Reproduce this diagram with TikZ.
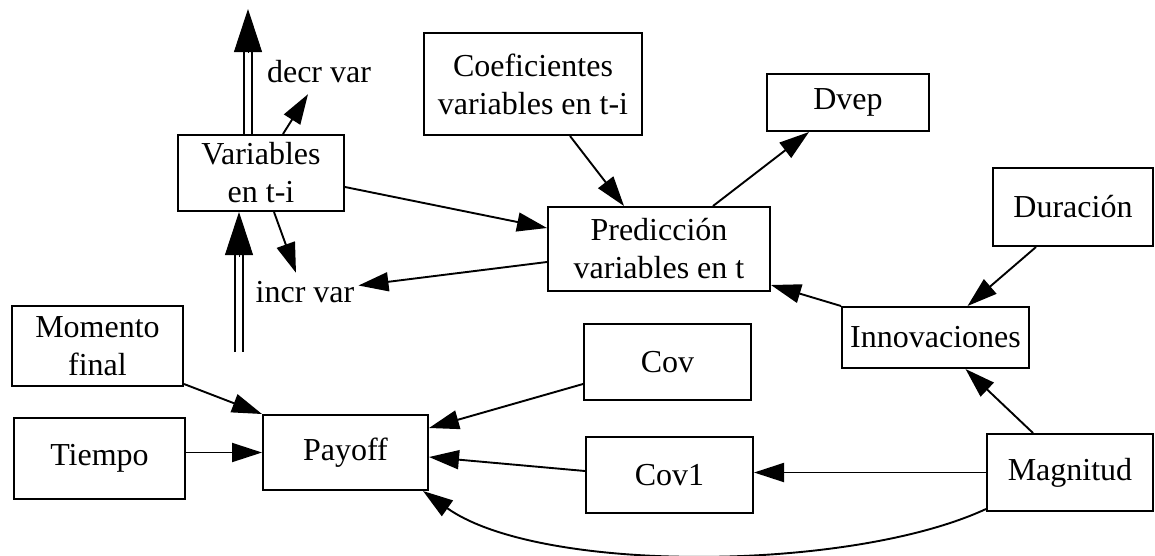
\documentclass[tikz,border=0pt]{standalone}
\usepackage{fontspec}
\setmainfont{Liberation Serif}
\usetikzlibrary{arrows.meta,calc}

\begin{document}
\begin{tikzpicture}[x=1pt,y=-1pt,
  box/.style={draw, line width=2pt, inner sep=0pt, align=center,
              font=\fontsize{32}{38}\selectfont},
  lbl/.style={inner sep=0pt, text height=21pt, text depth=0pt,
              font=\fontsize{32}{38}\selectfont},
  edge/.style={line width=1.9pt, -{Triangle[length=30pt,width=19pt]}},
  dbl/.style={double, double distance=5.5pt, line width=1.9pt},
  bigtip/.style={line width=1pt, -{Triangle[length=43pt,width=28pt]}}]

\useasboundingbox (0,0) rectangle (1155,555);

% boxes
\node[box, minimum width=166pt, minimum height=76pt]  (var)    at (261,173)   {Variables\\en t-i};
\node[box, minimum width=218pt, minimum height=102pt] (coef)   at (533,84)    {Coeficientes\\variables en t-i};
\node[box, minimum width=162pt, minimum height=57pt]  (dvep)   at (848,102.5) {Dvep};
\node[box, minimum width=222pt, minimum height=84pt]  (pred)   at (659,249)   {Predicción\\variables en t};
\node[box, minimum width=160pt, minimum height=78pt]  (dur)    at (1073,207)  {Duración};
\node[box, minimum width=187pt, minimum height=61pt]  (innov)  at (935.5,337.5) {Innovaciones};
\node[box, minimum width=171pt, minimum height=80pt]  (mom)    at (97.5,346)  {Momento\\final};
\node[box, minimum width=171pt, minimum height=81pt]  (tiempo) at (99.5,458.5) {Tiempo};
\node[box, minimum width=165pt, minimum height=75pt]  (payoff) at (345.5,452.5) {Payoff};
\node[box, minimum width=167pt, minimum height=76pt]  (cov)    at (667.5,362) {Cov};
\node[box, minimum width=167pt, minimum height=76pt]  (cov1)   at (669.5,475) {Cov1};
\node[box, minimum width=166pt, minimum height=77pt]  (mag)    at (1070,472.5) {Magnitud};

% free labels
\node[lbl] (decr) at (319,71.5)  {decr var};
\node[lbl] (incr) at (305,291.5) {incr var};

% free ends of the double arrows
\coordinate (topend)   at (248,9);
\coordinate (botstart) at (239,352);

% double arrows
\draw[dbl, shorten >=40pt] ([xshift=-13pt]var.north) -- (topend);
\draw[bigtip] ([yshift=-44pt]topend) -- (topend);
\draw[dbl, shorten >=40pt] (botstart) -- ([xshift=-22pt]var.south);
\draw[bigtip] ([yshift=-45pt]var.south -| botstart) -- ([xshift=-22pt]var.south);

% edges
\draw[edge] ([yshift=-14pt]var.east) -- ([yshift=21pt]pred.west);
\draw[edge] ([xshift=37pt]coef.south) -- ([xshift=-35pt]pred.north);
\draw[edge] ([xshift=54pt]pred.north) -- ([xshift=-39pt]dvep.south);
\draw[edge] ([yshift=-13pt]pred.west) -- ([xshift=4pt,yshift=6pt]incr.east);
\draw[edge] ([xshift=13pt]var.south) -- ([xshift=-9pt,yshift=8pt]incr.north);
\draw[edge] ([xshift=22pt]var.north) -- ([xshift=-11pt,yshift=-12pt]decr.south);
\draw[edge] (innov.north west) -- ([yshift=-36pt]pred.east);
\draw[edge] ([xshift=-37pt]dur.south) -- ([xshift=32pt]innov.north);
\draw[edge] ([xshift=-37pt]mag.north) -- ([xshift=30pt]innov.south);
\draw[edge] (mag.west) -- (mag.west -| cov1.east);
\draw[edge] ([yshift=3pt]mag.south west) .. controls (850,572) and (540,574) .. ([xshift=-6pt]payoff.south east);
\draw[edge] ([yshift=-22pt]cov.west) -- ([yshift=24.5pt]payoff.east);
\draw[edge] ([yshift=4pt]cov1.west) -- ([yshift=-4.5pt]payoff.east);
\draw[edge] ([yshift=3pt]mom.south east) -- (payoff.north west);
\draw[edge] (tiempo.east |- payoff.west) -- (payoff.west);

\end{tikzpicture}
\end{document}
